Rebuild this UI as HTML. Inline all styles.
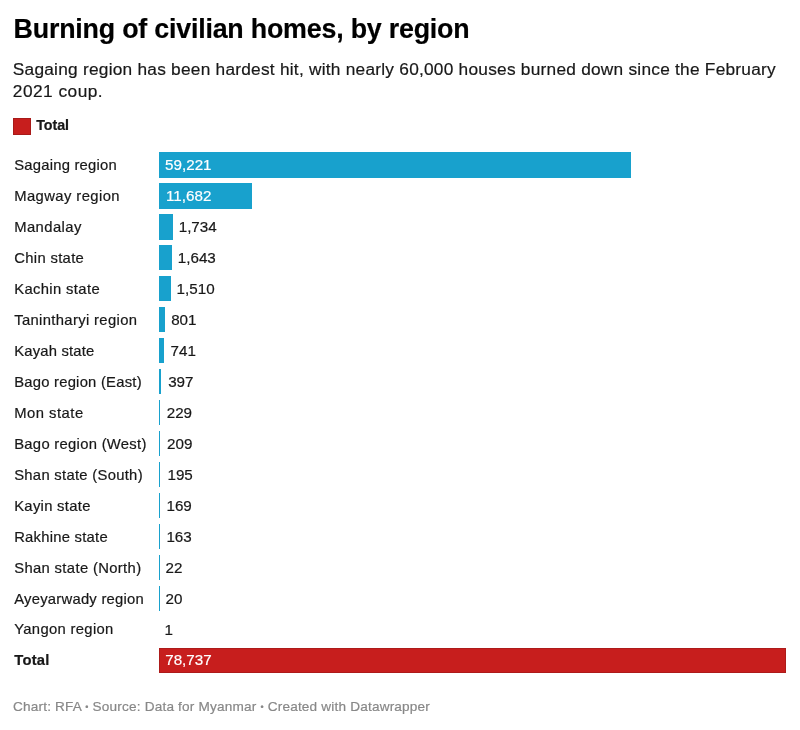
<!DOCTYPE html>
<html><head><meta charset="utf-8"><title>Burning of civilian homes, by region</title>
<style>
html,body{margin:0;padding:0;background:#fff;}
body{-webkit-text-stroke:0.2px;width:800px;height:730px;position:relative;overflow:hidden;font-family:"Liberation Sans",Arial,sans-serif;color:#181818;}
.abs{position:absolute;white-space:nowrap;}
h1{position:absolute;margin:0;top:11.7px;font-size:26.8px;line-height:34px;font-weight:700;color:#000;white-space:nowrap;}
.sub{font-size:17.3px;line-height:22px;color:#181818;}
.key{position:absolute;left:13px;top:117.5px;width:16px;height:15.5px;background:#c71e1d;border:1px solid #a81a19;}
.keyl{top:115.8px;font-size:14.3px;line-height:18px;font-weight:700;}
.lbl{font-size:14.8px;line-height:25px;height:25px;margin-top:0.7px;}
.bar{position:absolute;left:159px;height:25px;background:#18a1cd;}
.val{font-size:15.2px;line-height:25px;height:25px;margin-top:-0.3px;}
.in{color:#fff;}
.b{font-size:9px;position:relative;top:-1.2px;}
.foot{top:698.2px;font-size:13.6px;line-height:18px;color:#888;}
</style></head><body>

<h1 style="left:13.60px;letter-spacing:-0.200px">Burning of civilian homes, by region</h1>
<div class="abs sub" style="left:12.80px;letter-spacing:0.241px;top:58.1px;">Sagaing region has been hardest hit, with nearly 60,000 houses burned down since the February</div>
<div class="abs sub" style="left:12.80px;letter-spacing:0.480px;top:79.7px;">2021 coup.</div>
<div class="key"></div>
<div class="abs keyl" style="left:36.20px;letter-spacing:-0.050px;">Total</div>
<div class="abs lbl" style="left:14.20px;letter-spacing:0.231px;top:152.40px;">Sagaing region</div>
<div class="bar" style="top:152.40px;width:471.59px;height:25.20px"></div>
<div class="abs val in" style="left:165.10px;letter-spacing:0.000px;top:152.40px;">59,221</div>
<div class="abs lbl" style="left:14.20px;letter-spacing:0.417px;top:183.36px;">Magway region</div>
<div class="bar" style="top:183.36px;width:93.03px;height:25.20px"></div>
<div class="abs val in" style="left:166.00px;letter-spacing:0.000px;top:183.36px;">11,682</div>
<div class="abs lbl" style="left:14.20px;letter-spacing:0.429px;top:214.32px;">Mandalay</div>
<div class="bar" style="top:214.32px;width:13.81px;height:25.20px"></div>
<div class="abs val" style="left:178.71px;letter-spacing:0.000px;top:214.32px;">1,734</div>
<div class="abs lbl" style="left:14.20px;letter-spacing:0.333px;top:245.28px;">Chin state</div>
<div class="bar" style="top:245.28px;width:13.08px;height:25.20px"></div>
<div class="abs val" style="left:177.78px;letter-spacing:0.000px;top:245.28px;">1,643</div>
<div class="abs lbl" style="left:14.20px;letter-spacing:0.364px;top:276.24px;">Kachin state</div>
<div class="bar" style="top:276.24px;width:12.02px;height:25.20px"></div>
<div class="abs val" style="left:176.62px;letter-spacing:0.000px;top:276.24px;">1,510</div>
<div class="abs lbl" style="left:14.20px;letter-spacing:0.353px;top:307.20px;">Tanintharyi region</div>
<div class="bar" style="top:307.20px;width:5.68px;height:25.20px"></div>
<div class="abs val" style="left:171.18px;letter-spacing:0.000px;top:307.20px;">801</div>
<div class="abs lbl" style="left:14.20px;letter-spacing:0.200px;top:338.16px;">Kayah state</div>
<div class="bar" style="top:338.16px;width:5.20px;height:25.20px"></div>
<div class="abs val" style="left:170.50px;letter-spacing:0.000px;top:338.16px;">741</div>
<div class="abs lbl" style="left:14.20px;letter-spacing:0.235px;top:369.12px;">Bago region (East)</div>
<div class="bar" style="top:369.12px;width:2.46px;height:25.20px"></div>
<div class="abs val" style="left:168.16px;letter-spacing:0.000px;top:369.12px;">397</div>
<div class="abs lbl" style="left:14.20px;letter-spacing:0.500px;top:400.08px;">Mon state</div>
<div class="bar" style="top:400.08px;width:1.12px;height:25.20px"></div>
<div class="abs val" style="left:166.72px;letter-spacing:0.000px;top:400.08px;">229</div>
<div class="abs lbl" style="left:14.20px;letter-spacing:0.294px;top:431.04px;">Bago region (West)</div>
<div class="bar" style="top:431.04px;width:1.10px;height:25.20px"></div>
<div class="abs val" style="left:167.06px;letter-spacing:0.000px;top:431.04px;">209</div>
<div class="abs lbl" style="left:14.20px;letter-spacing:0.294px;top:462.00px;">Shan state (South)</div>
<div class="bar" style="top:462.00px;width:1.10px;height:25.20px"></div>
<div class="abs val" style="left:167.45px;letter-spacing:0.000px;top:462.00px;">195</div>
<div class="abs lbl" style="left:14.20px;letter-spacing:0.300px;top:492.96px;">Kayin state</div>
<div class="bar" style="top:492.96px;width:1.10px;height:25.20px"></div>
<div class="abs val" style="left:166.45px;letter-spacing:0.000px;top:492.96px;">169</div>
<div class="abs lbl" style="left:14.20px;letter-spacing:0.250px;top:523.92px;">Rakhine state</div>
<div class="bar" style="top:523.92px;width:1.10px;height:25.20px"></div>
<div class="abs val" style="left:166.40px;letter-spacing:0.000px;top:523.92px;">163</div>
<div class="abs lbl" style="left:14.20px;letter-spacing:0.353px;top:554.88px;">Shan state (North)</div>
<div class="bar" style="top:554.88px;width:1.10px;height:25.20px"></div>
<div class="abs val" style="left:165.58px;letter-spacing:0.000px;top:554.88px;">22</div>
<div class="abs lbl" style="left:14.20px;letter-spacing:0.250px;top:585.84px;">Ayeyarwady region</div>
<div class="bar" style="top:585.84px;width:1.10px;height:25.20px"></div>
<div class="abs val" style="left:165.56px;letter-spacing:0.000px;top:585.84px;">20</div>
<div class="abs lbl" style="left:14.20px;letter-spacing:0.333px;top:616.80px;">Yangon region</div>
<div class="abs val" style="left:164.51px;letter-spacing:0.000px;top:616.80px;">1</div>
<div class="abs lbl" style="left:14.20px;letter-spacing:0.250px;top:647.76px;font-weight:700;">Total</div>
<div class="bar" style="top:648.06px;width:624.90px;height:22.90px;background:#c71e1d;border:1px solid #ad1b1a;"></div>
<div class="abs val in" style="left:165.20px;letter-spacing:0.000px;top:647.76px;">78,737</div>
<div class="abs foot" style="left:13.00px;letter-spacing:0.184px;">Chart: RFA <span class="b">•</span> Source: Data for Myanmar <span class="b">•</span> Created with Datawrapper</div>
</body></html>
